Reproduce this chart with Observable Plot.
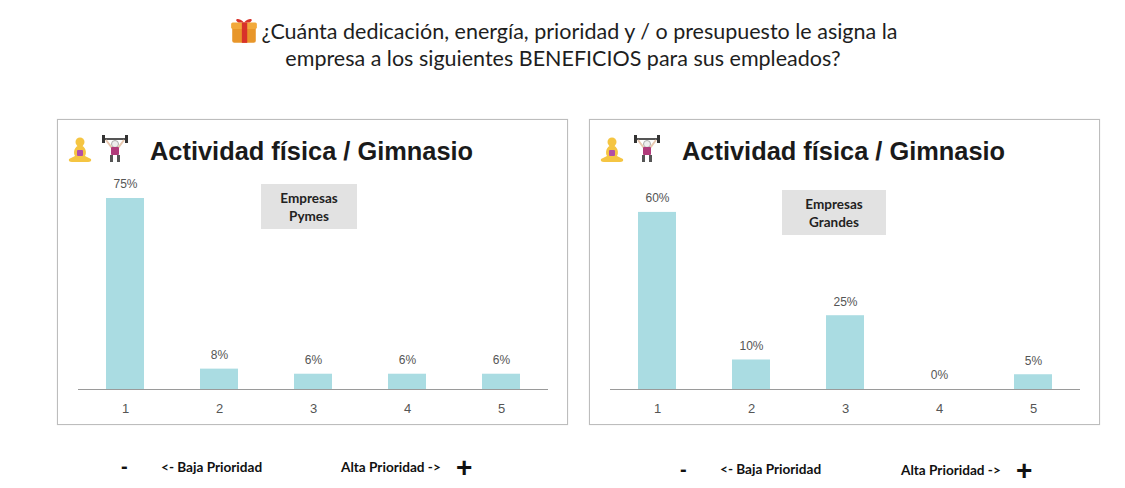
<!DOCTYPE html>
<html>
<head>
<meta charset="utf-8">
<script src="https://cdn.jsdelivr.net/npm/d3@7"></script>
<script src="https://cdn.jsdelivr.net/npm/@observablehq/plot@0.6"></script>
<style>
  html, body { margin: 0; padding: 0; background: #fff; }
  body { width: 1125px; height: 488px; position: relative; overflow: hidden; font-family: "Liberation Sans", Arial, sans-serif; }
  .title { position: absolute; left: 0; width: 1126px; text-align: center; font-family: Lato, "Open Sans", sans-serif; font-size: 21.5px; color: #1e1e1e; line-height: 27px; }
  .panel { position: absolute; top: 119px; width: 511px; height: 306px; box-sizing: border-box; border: 1.5px solid #bdbdbd; box-shadow: 0 0 1px #ddd; background: #fff; }
  .ptitle { position: absolute; top: 17px; font-family: "Liberation Sans", Arial, sans-serif; font-weight: bold; font-size: 25.4px; color: #1a1a1a; white-space: nowrap; }
  .legend { position: absolute; background: #e2e2e2; font-family: Lato, "Open Sans", sans-serif; font-weight: bold; font-size: 13.5px; color: #222; text-align: center; line-height: 18px; padding-top: 5px; box-sizing: border-box; }
  .chart { position: absolute; left: 0; top: 45px; }
  .foot { position: absolute; font-family: Lato, "Open Sans", sans-serif; font-weight: bold; font-size: 13.6px; color: #111; white-space: nowrap; }
  .sign { position: absolute; font-family: "Liberation Sans", Arial, sans-serif; font-weight: bold; color: #111; }
  .icon { position: absolute; }
</style>
</head>
<body>
<div class="title" style="top:16px;">
  <svg width="30" height="28" viewBox="0 0 28 26" style="vertical-align:-5px;margin-right:3px">
    <rect x="3" y="8" width="22" height="17" rx="2" fill="#e8962a"/>
    <rect x="2" y="6" width="24" height="6" rx="1.5" fill="#f2a93b"/>
    <rect x="12" y="6" width="5" height="19" fill="#d8322a"/>
    <path d="M14 6 C 8 0, 4 4, 9 6 Z M14 6 C 20 0, 24 4, 19 6 Z" fill="#d8322a"/>
  </svg>¿Cuánta dedicación, energía, prioridad y / o presupuesto le asigna la<br>empresa a los siguientes BENEFICIOS para sus empleados?
</div>

<div class="panel" id="p1" style="left:57px;"></div>
<div class="panel" id="p2" style="left:589px;"></div>

<div class="sign" style="left:121px;top:455px;font-size:20px;">-</div>
<div class="foot" style="left:161px;top:459px;">&lt;- Baja Prioridad</div>
<div class="foot" style="left:341px;top:459px;">Alta Prioridad -&gt;</div>
<div class="sign" style="left:456px;top:452px;font-size:28px;">+</div>

<div class="sign" style="left:680px;top:458px;font-size:20px;">-</div>
<div class="foot" style="left:720px;top:461px;">&lt;- Baja Prioridad</div>
<div class="foot" style="left:901px;top:462px;">Alta Prioridad -&gt;</div>
<div class="sign" style="left:1016px;top:455px;font-size:28px;">+</div>

<script>
// Data
const categories = ["1", "2", "3", "4", "5"];
const pymesValues = [75, 8, 6, 6, 6];
const grandesValues = [60, 10, 25, 0, 5];
const chartTitle = "Actividad física / Gimnasio";
const pymesLegend = ["Empresas", "Pymes"];
const grandesLegend = ["Empresas", "Grandes"];

const barColor = "#aadce2";

function icons() {
  return `
  <svg class="icon" style="left:9px;top:16px" width="26" height="28" viewBox="0 0 26 28">
    <circle cx="13" cy="6" r="4.5" fill="#f5c542"/>
    <path d="M13 9 C 7 10, 6 17, 8 20 L 2 23 Q 1 26, 5 26 L 21 26 Q 25 26, 24 23 L 18 20 C 20 17, 19 10, 13 9 Z" fill="#f5c542"/>
    <rect x="10" y="14" width="6" height="6" rx="1" fill="#b04fa8"/>
  </svg>
  <svg class="icon" style="left:42px;top:14px" width="30" height="30" viewBox="0 0 30 30">
    <rect x="3" y="4" width="24" height="2" fill="#555"/>
    <rect x="2" y="1" width="3" height="8" fill="#333"/>
    <rect x="25" y="1" width="3" height="8" fill="#333"/>
    <circle cx="15" cy="10" r="3.5" fill="#eee" stroke="#999" stroke-width="0.8"/>
    <path d="M6 6 L 12 14 L 18 14 L 24 6" stroke="#e8c8b0" stroke-width="2" fill="none"/>
    <rect x="11" y="13" width="8" height="8" rx="1" fill="#b03a7a"/>
    <rect x="10" y="21" width="3" height="7" fill="#555"/>
    <rect x="17" y="21" width="3" height="7" fill="#555"/>
  </svg>`;
}

function buildPanel(id, values, ymax, legendLines, legendPos) {
  const el = document.getElementById(id);
  el.innerHTML = icons() +
    `<div class="ptitle" style="left:92px">${chartTitle}</div>` +
    `<div class="legend" style="left:${legendPos[0]}px;top:${legendPos[1]}px;width:${legendPos[2]}px;height:45px">${legendLines.join("<br>")}</div>`;
  const data = categories.map((c, i) => ({cat: c, value: values[i]}));
  const chart = Plot.plot({
    width: 508,
    height: 259,
    marginTop: 5,
    marginBottom: 35,
    marginLeft: 20,
    marginRight: 18,
    style: {fontFamily: "'Liberation Sans', Arial, sans-serif", background: "transparent"},
    x: {domain: categories, paddingInner: 0.6, paddingOuter: 0.3, label: null},
    y: {domain: [0, ymax], axis: null},
    marks: [
      Plot.barY(data, {x: "cat", y: "value", fill: barColor}),
      Plot.ruleY([0], {stroke: "#9a9a9a", strokeWidth: 1.2}),
      Plot.axisX({tickSize: 0, tickPadding: 14, fill: "#555", fontSize: 13, label: null}),
      Plot.text(data, {x: "cat", y: "value", text: d => d.value + "%", dy: -14, fill: "#555", fontSize: 12})
    ]
  });
  chart.classList.add("chart");
  el.appendChild(chart);
}

buildPanel("p1", pymesValues, 86, pymesLegend, [203, 64, 96]);
buildPanel("p2", grandesValues, 74.2, grandesLegend, [192, 70, 104]);
</script>
</body>
</html>
